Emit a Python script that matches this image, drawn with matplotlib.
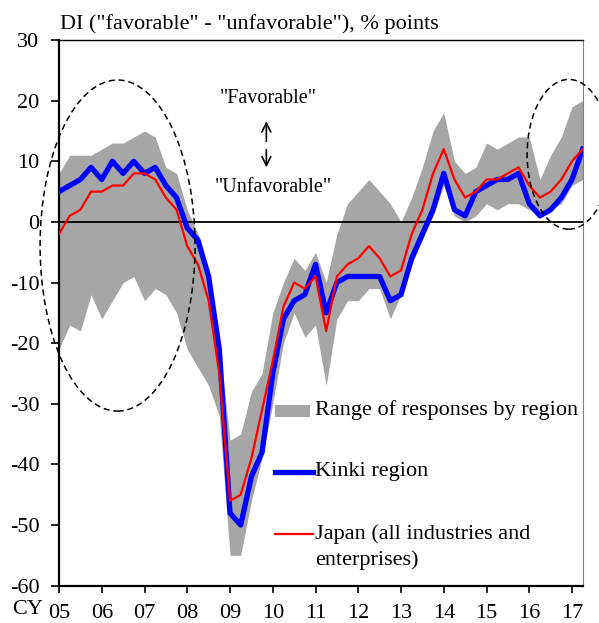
import matplotlib
matplotlib.use("Agg")
import matplotlib.pyplot as plt
from matplotlib.patches import Ellipse, Rectangle
from matplotlib.lines import Line2D
import numpy as np

plt.rcParams['font.family'] = ['Liberation Serif', 'DejaVu Serif']
plt.rcParams['axes.unicode_minus'] = False

# quarterly, 2005Q1 .. 2017Q2
kinki = [5, 6, 7, 9, 7, 10, 8, 10, 8, 9,
         6, 4, -1, -3, -9, -21, -48, -50, -42, -38,
         -25, -16, -13, -12, -7, -15, -10, -9, -9, -9,
         -9, -13, -12, -6, -2, 2, 8, 2, 1, 5,
         6, 7, 7, 8, 3, 1, 2, 4, 7, 12]
japan = [-2, 1, 2, 5, 5, 6, 6, 8, 8, 7,
         4, 2, -4, -7, -13, -25, -46, -45, -39, -31,
         -23, -14, -10, -11, -9, -18, -9, -7, -6, -4,
         -6, -9, -8, -2, 2, 8, 12, 7, 4, 5,
         7, 7, 8, 9, 6, 4, 5, 7, 10, 12]
range_hi = [8, 11, 11, 11, 12, 13, 13, 14, 15, 14,
            9, 8, 2, -2, -8, -20, -36, -35, -28, -25,
            -15, -10, -6, -8, -5, -10, -2, 3, 5, 7,
            5, 3, 0, 4, 9, 15, 18, 10, 8, 9,
            13, 12, 13, 14, 14, 7, 11, 14, 19, 20]
range_lo = [-21, -17, -18, -12, -16, -13, -10, -9, -13, -11,
            -12, -15, -21, -24, -27, -32, -55, -55, -46, -39,
            -30, -20, -15, -19, -17, -27, -16, -13, -13, -11,
            -11, -16, -12, -7, -3, 1, 6, 1, 0, 1,
            3, 2, 3, 3, 2, 1, 2, 3, 6, 7]
year_labels = ["05", "06", "07", "08", "09", "10", "11", "12",
               "13", "14", "15", "16", "17"]

q = np.arange(len(kinki))

fig = plt.figure(figsize=(5.99, 6.23), dpi=100)
ax = fig.add_axes([59 / 599, 1 - 585.7 / 623, 523.7 / 599, 545.7 / 623])

gray = '#a6a6a6'
ax.fill_between(q, range_lo, range_hi, color=gray, linewidth=0, zorder=1)
ax.axhline(0, color='black', lw=1.3, zorder=2)
ax.plot(q, japan, color='#ff0000', lw=1.6, zorder=4)
ax.plot(q, kinki, color='#0000ff', lw=3.8, zorder=3)

# dashed ellipses highlighting periods
for cx, cy, w, h in [(5.48, -3.9, 14.5, 54.6), (47.7, 11.15, 7.8, 24.7)]:
    e = Ellipse((cx, cy), w, h, fill=False, edgecolor='black', lw=1.1,
                linestyle=(0, (4, 2.5)), clip_on=False, zorder=5)
    ax.add_patch(e)

ax.set_xlim(0, 49)
ax.set_ylim(-60, 30)
ax.set_yticks(np.arange(-60, 31, 10))
ax.set_xticks(np.arange(0, 49, 4))
ax.set_xticklabels(year_labels)
ax.tick_params(axis='both', direction='out', labelsize=16, width=1.2, pad=8)
ax.tick_params(axis='y', length=6)
ax.tick_params(axis='x', length=5)

for s in ['left', 'bottom']:
    ax.spines[s].set_linewidth(1.6)
ax.spines['top'].set_linewidth(1.0)
ax.spines['right'].set_linewidth(0.8)
ax.spines['right'].set_color('#808080')

# annotation in the plot
ax.text(19.54, 20.3, '"Favorable"', fontsize=14.5, ha='center', va='center')
ax.text(20.06, 5.6, '"Unfavorable"', fontsize=14.5, ha='center', va='center')
ax.annotate('', xy=(19.4, 16.6), xytext=(19.4, 13.3),
            arrowprops=dict(arrowstyle='->', lw=1.2, color='black',
                            mutation_scale=16, shrinkA=0, shrinkB=0))
ax.annotate('', xy=(19.4, 9.0), xytext=(19.4, 11.9),
            arrowprops=dict(arrowstyle='->', lw=1.2, color='black',
                            mutation_scale=16, shrinkA=0, shrinkB=0))

# manual legend
tr = ax.transAxes
ax.add_patch(Rectangle((0.4125, 0.309), 0.0665, 0.022, transform=tr,
                       facecolor=gray, edgecolor='none', zorder=6))
ax.text(0.489, 0.322, 'Range of responses by region', transform=tr,
        fontsize=16, va='center', ha='left')
ax.add_line(Line2D([0.4125, 0.485], [0.2084, 0.2084], transform=tr,
                   color='#0000ff', lw=3.8))
ax.text(0.489, 0.2084, 'Kinki region', transform=tr,
        fontsize=16, va='center', ha='left')
ax.add_line(Line2D([0.4125, 0.485], [0.0947, 0.0947], transform=tr,
                   color='#ff0000', lw=1.6))
ax.text(0.489, 0.0947, 'Japan (all industries and', transform=tr,
        fontsize=16, va='center', ha='left')
ax.text(0.489, 0.047, 'enterprises)', transform=tr,
        fontsize=16, va='center', ha='left')

fig.text(60 / 599, 1 - 24 / 623, 'DI ("favorable" - "unfavorable"), % points',
         fontsize=16, ha='left', va='center')
fig.text(12 / 599, 1 - 609 / 623, 'CY', fontsize=16, ha='left', va='center')

fig.savefig('out.png', dpi=100)
